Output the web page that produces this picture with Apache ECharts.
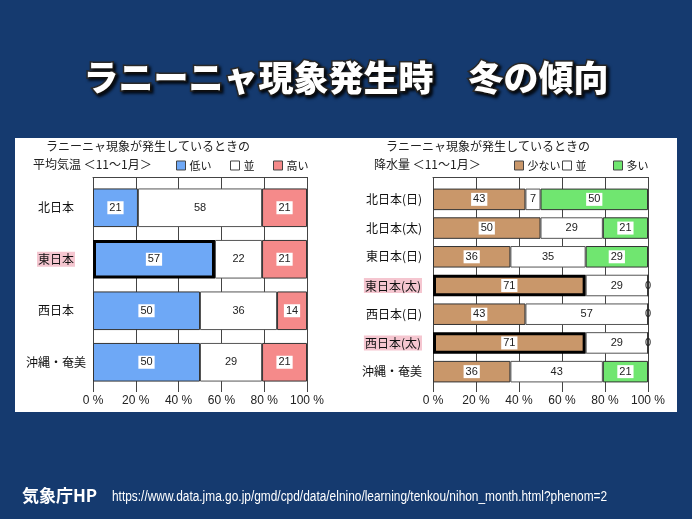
<!DOCTYPE html>
<html>
<head>
<meta charset="utf-8">
<script src="https://cdn.jsdelivr.net/npm/echarts@6/dist/echarts.min.js"></script>
<style>
html,body{margin:0;padding:0;background:#153a6f;}
#chart{width:692px;height:519px;}
</style>
</head>
<body>
<div id="chart"></div>
<script>
// ---- data ----
var tempCategories = ['北日本', '東日本', '西日本', '沖縄・奄美'];
var tempLow = [21, 57, 50, 50];
var tempNormal = [58, 22, 36, 29];
var tempHigh = [21, 21, 14, 21];
var tempHighlighted = ['東日本'];

var precipCategories = ['北日本(日)', '北日本(太)', '東日本(日)', '東日本(太)', '西日本(日)', '西日本(太)', '沖縄・奄美'];
var precipLow = [43, 50, 36, 71, 43, 71, 36];
var precipNormal = [7, 29, 35, 29, 57, 29, 43];
var precipHigh = [50, 21, 29, 0, 0, 0, 21];
var precipHighlighted = ['東日本(太)', '西日本(太)'];

var tempLegend = ['低い', '並', '高い'];
var precipLegend = ['少ない', '並', '多い'];

var mainTitle = 'ラニーニャ現象発生時　冬の傾向';
var subTitle1 = 'ラニーニャ現象が発生しているときの';
var tempSubTitle2 = '平均気温 ＜11～1月＞';
var precipSubTitle2 = '降水量 ＜11～1月＞';
var sourceLabel = '気象庁HP';
var sourceUrl = 'https://www.data.jma.go.jp/gmd/cpd/data/elnino/learning/tenkou/nihon_month.html?phenom=2';

// ---- helpers ----
function items(values, cats, hl, thick) {
  return values.map(function (v, i) {
    var o = { value: v };
    if (thick && hl.indexOf(cats[i]) >= 0) {
      o.itemStyle = { borderColor: '#000', borderWidth: 3 };
    }
    if (v === 0) {
      o.label = { backgroundColor: 'transparent' };
    }
    return o;
  });
}

var FONT = '"Noto Sans CJK JP", "Noto Sans", sans-serif';
var NUMFONT = '"Liberation Sans", "Noto Sans CJK JP", sans-serif';

function barLabel(bg) {
  return {
    show: true, position: 'inside', fontSize: 11, color: '#222', fontFamily: NUMFONT,
    backgroundColor: bg ? '#fff' : 'transparent', padding: [1, 2]
  };
}

function catLabel(hl, margin, align) {
  return {
    fontSize: 12, color: '#111', margin: margin, fontFamily: FONT, align: align,
    formatter: function (v) { return hl.indexOf(v) >= 0 ? '{h|' + v + '}' : '{n|' + v + '}'; },
    rich: {
      h: { backgroundColor: '#f5c6d0', padding: [2, 1, 1, 1], fontSize: 12, color: '#111', fontFamily: FONT },
      n: { fontSize: 12, color: '#111', fontFamily: FONT }
    }
  };
}

function bottomX(gridIndex, off) {
  return {
    gridIndex: gridIndex, type: 'value', min: 0, max: 100, interval: 20, position: 'bottom', offset: off,
    axisLine: { show: false },
    axisTick: { show: true, inside: true, length: off, lineStyle: { color: '#444' } },
    axisLabel: { formatter: '{value} %', fontSize: 12, color: '#222', margin: 3, fontFamily: NUMFONT },
    splitLine: { show: true, lineStyle: { color: '#444', width: 1 } }
  };
}
function topX(gridIndex, off) {
  return {
    gridIndex: gridIndex, type: 'value', min: 0, max: 100, interval: 20, position: 'top', offset: off,
    axisLine: { show: true, lineStyle: { color: '#444' } },
    axisTick: { show: true, inside: true, length: off, lineStyle: { color: '#444' } },
    axisLabel: { show: false },
    splitLine: { show: false }
  };
}

function legendAt(name, left) {
  return {
    data: [name], left: left, top: 160, padding: 0, itemWidth: 9, itemHeight: 9, icon: 'rect',
    selectedMode: false,
    itemStyle: { borderColor: '#444', borderWidth: 1 },
    textStyle: { fontSize: 11, color: '#111', fontFamily: FONT, padding: [0, 0, 0, -1] }
  };
}

var chart = echarts.init(document.getElementById('chart'), null, { renderer: 'canvas' });

var option = {
  backgroundColor: '#153a6f',
  textStyle: { fontFamily: FONT },
  animation: false,
  graphic: [
    { type: 'rect', left: 15, top: 138, z: -10,
      shape: { width: 662, height: 274 },
      style: { fill: '#ffffff' } },
    { type: 'text', x: 112, y: 490, scaleX: 0.85,
      style: { text: sourceUrl, fill: '#fff', font: '14px "Liberation Sans", sans-serif' } }
  ],
  title: [
    { text: mainTitle, left: 'center', top: 60, padding: 0,
      textStyle: { color: '#fff', fontSize: 35, fontWeight: 900, fontFamily: FONT,
        textBorderColor: '#2a2a2a', textBorderWidth: 3,
        textShadowColor: 'rgba(0,0,0,0.8)', textShadowBlur: 3, textShadowOffsetX: 2, textShadowOffsetY: 2 } },
    { text: sourceLabel, left: 22, top: 487, padding: 0,
      textStyle: { color: '#fff', fontSize: 17, fontWeight: 'bold', fontFamily: FONT } },
    { text: subTitle1, left: 46, top: 140, padding: 0,
      textStyle: { color: '#222', fontSize: 12, fontWeight: 'normal', fontFamily: FONT } },
    { text: tempSubTitle2, left: 33, top: 158, padding: 0,
      textStyle: { color: '#222', fontSize: 12, fontWeight: 'normal', fontFamily: FONT } },
    { text: subTitle1, left: 386, top: 140, padding: 0,
      textStyle: { color: '#222', fontSize: 12, fontWeight: 'normal', fontFamily: FONT } },
    { text: precipSubTitle2, left: 374, top: 158, padding: 0,
      textStyle: { color: '#222', fontSize: 12, fontWeight: 'normal', fontFamily: FONT } }
  ],
  legend: [
    legendAt(tempLegend[0], 176), legendAt(tempLegend[1], 230), legendAt(tempLegend[2], 273),
    legendAt(precipLegend[0], 514), legendAt(precipLegend[1], 562), legendAt(precipLegend[2], 613)
  ],
  grid: [
    { left: 93, top: 182, width: 214, height: 206 },
    { left: 433, top: 185, width: 215, height: 201 }
  ],
  xAxis: [bottomX(0, 4), topX(0, 5), bottomX(1, 6), topX(1, 8)],
  yAxis: [
    { gridIndex: 0, type: 'category', data: tempCategories, inverse: true,
      axisLine: { show: true, lineStyle: { color: '#444' } }, axisTick: { show: false },
      axisLabel: catLabel(tempHighlighted, 37, 'center') },
    { gridIndex: 1, type: 'category', data: precipCategories, inverse: true,
      axisLine: { show: true, lineStyle: { color: '#444' } }, axisTick: { show: false },
      axisLabel: catLabel(precipHighlighted, 11, 'right') }
  ],
  series: [
    { name: tempLegend[0], type: 'bar', stack: 't', xAxisIndex: 0, yAxisIndex: 0, z: 3, barCategoryGap: '25%',
      itemStyle: { color: '#6ea8f6', borderColor: '#333', borderWidth: 1 },
      label: barLabel(true), data: items(tempLow, tempCategories, tempHighlighted, true) },
    { name: tempLegend[1], type: 'bar', stack: 't', xAxisIndex: 0, yAxisIndex: 0, barCategoryGap: '25%',
      itemStyle: { color: '#ffffff', borderColor: '#555', borderWidth: 1 },
      label: barLabel(false), data: items(tempNormal, tempCategories, tempHighlighted, false) },
    { name: tempLegend[2], type: 'bar', stack: 't', xAxisIndex: 0, yAxisIndex: 0, barCategoryGap: '25%',
      itemStyle: { color: '#f58a8a', borderColor: '#333', borderWidth: 1 },
      label: barLabel(true), data: items(tempHigh, tempCategories, tempHighlighted, false) },
    { name: precipLegend[0], type: 'bar', stack: 'p', xAxisIndex: 2, yAxisIndex: 1, z: 3, barCategoryGap: '25%',
      itemStyle: { color: '#c9976a', borderColor: '#333', borderWidth: 1 },
      label: barLabel(true), data: items(precipLow, precipCategories, precipHighlighted, true) },
    { name: precipLegend[1], type: 'bar', stack: 'p', xAxisIndex: 2, yAxisIndex: 1, barCategoryGap: '25%',
      itemStyle: { color: '#ffffff', borderColor: '#555', borderWidth: 1 },
      label: barLabel(false), data: items(precipNormal, precipCategories, precipHighlighted, false) },
    { name: precipLegend[2], type: 'bar', stack: 'p', xAxisIndex: 2, yAxisIndex: 1, barCategoryGap: '25%',
      itemStyle: { color: '#70e670', borderColor: '#333', borderWidth: 1 },
      label: barLabel(true), data: items(precipHigh, precipCategories, precipHighlighted, false) }
  ]
};
chart.setOption(option);
</script>
</body>
</html>
